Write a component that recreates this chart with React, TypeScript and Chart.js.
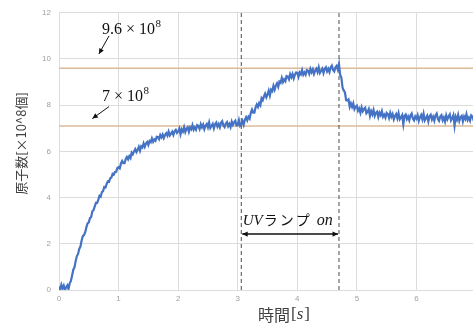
import React, { useEffect, useRef } from "react";
import { Chart, registerables } from "chart.js";

Chart.register(...registerables);

// ---- data ----
const SAMPLE_START = 0; // s
const SAMPLE_STEP = 0.02; // s
// atom number [x10^8], one value per sample (rows = 1 s each)
const ATOM_COUNT = [
  0.16, 0.02, 0.22, 0.07, 0.19, 0.0, 0.12, 0.2, 0.04, 0.29, 0.39, 0.63, 0.88, 0.98, 1.26, 1.47, 1.56, 1.78, 1.88, 2.14, 2.33, 2.38, 2.5, 2.72, 2.88,
  2.93, 3.11, 3.16, 3.41, 3.46, 3.62, 3.77, 3.77, 3.91, 4.08, 4.04, 4.24, 4.28, 4.46, 4.44, 4.59, 4.7, 4.68, 4.84, 4.87, 5.03, 5.0, 5.11, 5.12, 5.28,
  5.32, 5.27, 5.48, 5.59, 5.49, 5.49, 5.67, 5.76, 5.66, 5.79, 5.71, 5.95, 5.88, 6.0, 6.1, 5.97, 6.07, 6.2, 6.03, 6.22, 6.17, 6.35, 6.2, 6.34, 6.41,
  6.28, 6.45, 6.4, 6.56, 6.42, 6.52, 6.46, 6.63, 6.62, 6.53, 6.71, 6.61, 6.73, 6.58, 6.71, 6.79, 6.68, 6.86, 6.69, 6.77, 6.85, 6.71, 6.87, 6.93, 6.8,
  6.86, 6.99, 6.74, 6.95, 6.86, 7.05, 6.84, 6.98, 7.04, 6.85, 7.04, 6.96, 7.14, 6.94, 7.04, 6.94, 7.14, 7.1, 6.97, 7.18, 7.04, 7.16, 6.96, 7.11, 7.19,
  7.04, 7.25, 7.01, 7.1, 7.19, 7.0, 7.18, 7.25, 7.07, 7.18, 7.04, 7.24, 7.31, 7.12, 7.05, 7.21, 7.27, 7.09, 7.19, 7.05, 7.29, 7.15, 7.26, 7.33, 7.12,
  7.14, 7.35, 7.11, 7.19, 7.32, 7.15, 7.37, 7.48, 7.35, 7.5, 7.42, 7.67, 7.81, 7.68, 7.68, 7.91, 8.03, 7.92, 8.09, 8.0, 8.3, 8.22, 8.38, 8.5, 8.34,
  8.46, 8.63, 8.42, 8.67, 8.61, 8.84, 8.67, 8.85, 8.95, 8.8, 9.02, 8.97, 9.18, 9.0, 9.12, 9.04, 9.26, 9.24, 9.12, 9.34, 9.21, 9.35, 9.16, 9.32, 9.42,
  9.41, 9.23, 9.42, 9.34, 9.52, 9.32, 9.42, 9.32, 9.52, 9.49, 9.36, 9.57, 9.43, 9.55, 9.35, 9.5, 9.58, 9.43, 9.64, 9.4, 9.49, 9.58, 9.39, 9.57, 9.64,
  9.46, 9.57, 9.43, 9.63, 9.71, 9.52, 9.46, 9.63, 9.7, 9.54, 9.78, 9.31, 9.2, 8.76, 8.64, 8.55, 8.22, 8.2, 8.25, 7.93, 8.08, 7.93, 8.08, 7.83, 7.93,
  7.98, 7.76, 7.85, 7.67, 7.91, 7.74, 7.84, 7.89, 7.65, 7.71, 7.83, 7.54, 7.74, 7.6, 7.79, 7.54, 7.67, 7.72, 7.49, 7.68, 7.57, 7.74, 7.5, 7.59, 7.46,
  7.67, 7.62, 7.45, 7.67, 7.5, 7.62, 7.39, 7.53, 7.62, 7.43, 7.65, 7.39, 7.47, 7.57, 7.18, 7.54, 7.6, 7.4, 7.51, 7.35, 7.56, 7.64, 7.42, 7.34, 7.51,
  7.42, 7.57, 7.32, 7.48, 7.58, 7.39, 7.63, 7.34, 7.44, 7.54, 7.3, 7.52, 7.59, 7.38, 7.5, 7.33, 7.56, 7.64, 7.4, 7.32, 7.51, 7.57, 7.35, 7.47, 7.29,
  7.56, 7.39, 7.51, 7.6, 7.34, 7.43, 7.57, 7.12, 7.5, 7.37, 7.58, 7.32, 7.48, 7.54, 7.3, 7.51, 7.4, 7.61, 7.36, 7.46, 7.33, 7.56, 7.51, 7.34, 7.58,
  7.44,
];

const LEVELS = [9.6, 7.1]; // reference levels [x10^8]
const UV_ON = 3.06; // s
const UV_OFF = 4.7; // s

const X_RANGE = [0, 7];
const Y_RANGE = [0, 12];
const X_STEP = 1;
const Y_STEP = 2;

const X_TITLE = "時間";
const X_TITLE_UNIT = "s";
const Y_TITLE = "原子数[×10^8個]";

const PEAK_LABEL = ["9.6 × 10", "8"];
const BASE_LABEL = ["7 × 10", "8"];
const UV_LABEL = ["UV", "ランプ", "on"];

// annotation anchors in data coordinates
const PEAK_LABEL_AT = [0.72, 11.1];
const PEAK_ARROW = [0.84, 11.0, 0.67, 10.22];
const BASE_LABEL_AT = [0.72, 8.2];
const BASE_ARROW = [0.84, 7.94, 0.56, 7.42];
const UV_LABEL_Y = 2.83;
const UV_ARROW_Y = 2.42;

function arrowHead(ctx: CanvasRenderingContext2D, x1: number, y1: number, x2: number, y2: number, size: number) {
  const a = Math.atan2(y2 - y1, x2 - x1);
  ctx.beginPath();
  ctx.moveTo(x2, y2);
  ctx.lineTo(x2 - size * Math.cos(a - 0.45), y2 - size * Math.sin(a - 0.45));
  ctx.lineTo(x2 - size * Math.cos(a + 0.45), y2 - size * Math.sin(a + 0.45));
  ctx.closePath();
  ctx.fill();
}

function arrow(ctx: CanvasRenderingContext2D, x1: number, y1: number, x2: number, y2: number) {
  ctx.beginPath();
  ctx.moveTo(x1, y1);
  ctx.lineTo(x2, y2);
  ctx.stroke();
  arrowHead(ctx, x1, y1, x2, y2, 6);
}

function sci(ctx: CanvasRenderingContext2D, parts: string[], x: number, y: number) {
  ctx.font = '16px "Liberation Serif"';
  ctx.textAlign = "left";
  ctx.textBaseline = "alphabetic";
  ctx.fillText(parts[0], x, y);
  const w = ctx.measureText(parts[0]).width;
  ctx.font = '11px "Liberation Serif"';
  ctx.fillText(parts[1], x + w + 0.5, y - 7);
}

const annotations = {
  id: "annotations",
  afterDraw(chart: any) {
    const { ctx, scales } = chart;
    const xs = scales.x;
    const ys = scales.y;
    const px = (v: number) => xs.getPixelForValue(v);
    const py = (v: number) => ys.getPixelForValue(v);
    ctx.save();
    ctx.fillStyle = "#111";
    ctx.strokeStyle = "#111";
    ctx.lineWidth = 1;

    sci(ctx, PEAK_LABEL, px(PEAK_LABEL_AT[0]), py(PEAK_LABEL_AT[1]));
    arrow(ctx, px(PEAK_ARROW[0]), py(PEAK_ARROW[1]), px(PEAK_ARROW[2]), py(PEAK_ARROW[3]));
    sci(ctx, BASE_LABEL, px(BASE_LABEL_AT[0]), py(BASE_LABEL_AT[1]));
    arrow(ctx, px(BASE_ARROW[0]), py(BASE_ARROW[1]), px(BASE_ARROW[2]), py(BASE_ARROW[3]));

    // UV lamp label
    const x0 = px(UV_ON);
    const x1 = px(UV_OFF);
    const ly = py(UV_LABEL_Y);
    ctx.textBaseline = "alphabetic";
    ctx.textAlign = "left";
    ctx.font = 'italic 15px "Liberation Serif"';
    ctx.fillText(UV_LABEL[0], x0 + 1.5, ly);
    let cx = x0 + 1.5 + ctx.measureText(UV_LABEL[0]).width + 1;
    ctx.font = '14px "Noto Sans CJK JP"';
    for (const ch of UV_LABEL[1]) {
      ctx.fillText(ch, cx, ly);
      cx += ctx.measureText(ch).width + 2;
    }
    ctx.font = 'italic 16px "Liberation Serif"';
    ctx.fillText(UV_LABEL[2], cx + 5, ly);

    const ay = py(UV_ARROW_Y);
    ctx.lineWidth = 1.5;
    ctx.beginPath();
    ctx.moveTo(x0 + 1, ay);
    ctx.lineTo(x1 - 1, ay);
    ctx.stroke();
    arrowHead(ctx, x1, ay, x0 + 1, ay, 6);
    arrowHead(ctx, x0, ay, x1 - 1, ay, 6);

    // axis titles
    ctx.fillStyle = "#404040";
    ctx.font = '16px "Noto Sans CJK JP"';
    ctx.textBaseline = "middle";
    const tw = ctx.measureText(X_TITLE).width;
    ctx.font = '17px "Liberation Serif"';
    const bw = ctx.measureText("[").width;
    ctx.font = 'italic 17px "Liberation Serif"';
    const sw = ctx.measureText(X_TITLE_UNIT).width;
    const total = tw + bw * 2 + sw + 2;
    let tx = 284 - total / 2;
    const ty = 315;
    ctx.font = '16px "Noto Sans CJK JP"';
    ctx.fillText(X_TITLE, tx, ty);
    tx += tw + 1;
    ctx.font = '17px "Liberation Serif"';
    ctx.fillText("[", tx, ty);
    tx += bw;
    ctx.font = 'italic 17px "Liberation Serif"';
    ctx.fillText(X_TITLE_UNIT, tx, ty);
    tx += sw + 1;
    ctx.font = '17px "Liberation Serif"';
    ctx.fillText("]", tx, ty);

    ctx.translate(21.5, 143.5);
    ctx.rotate(-Math.PI / 2);
    ctx.textAlign = "center";
    ctx.font = '13px "Noto Sans CJK JP"';
    ctx.fillText(Y_TITLE, 0, 0);
    ctx.restore();
  },
};

export default function App() {
  const ref = useRef<HTMLCanvasElement | null>(null);

  useEffect(() => {
    if (!ref.current) return;
    const series = ATOM_COUNT.map((v, i) => ({ x: SAMPLE_START + i * SAMPLE_STEP, y: v }));
    const levelSets = LEVELS.map((lv) => ({
      data: [
        { x: X_RANGE[0], y: lv },
        { x: X_RANGE[1], y: lv },
      ],
      borderColor: "#DDBA96",
      borderWidth: 1.3,
      pointRadius: 0,
      order: 2,
    }));
    const uvSets = [UV_ON, UV_OFF].map((t) => ({
      data: [
        { x: t, y: Y_RANGE[0] },
        { x: t, y: Y_RANGE[1] },
      ],
      borderColor: "#4d4d4d",
      borderWidth: 1,
      borderDash: [4, 3],
      pointRadius: 0,
      order: 1,
    }));
    const chart = new Chart(ref.current, {
      type: "line",
      data: {
        datasets: [
          {
            data: series,
            borderColor: "#4472C4",
            borderWidth: 2.2,
            pointRadius: 0,
            tension: 0,
            order: 0,
          },
          ...levelSets,
          ...uvSets,
        ] as any,
      },
      options: {
        animation: false,
        responsive: false,
        maintainAspectRatio: false,
        layout: { padding: { left: 0, top: 12, right: 14, bottom: 0 } },
        plugins: { legend: { display: false }, tooltip: { enabled: false }, title: { display: false } },
        scales: {
          x: {
            type: "linear",
            min: X_RANGE[0],
            max: X_RANGE[1],
            ticks: { stepSize: X_STEP, color: "#a0a0a0", font: { size: 8, family: "Liberation Sans" }, padding: 4, maxRotation: 0 },
            grid: { color: "#dcdcdc", drawTicks: false },
            border: { color: "#dcdcdc" },
            afterFit: (s: any) => {
              s.height = 34;
            },
          },
          y: {
            min: Y_RANGE[0],
            max: Y_RANGE[1],
            ticks: { stepSize: Y_STEP, color: "#a0a0a0", font: { size: 8, family: "Liberation Sans" }, padding: 8 },
            grid: { color: "#dcdcdc", drawTicks: false },
            border: { color: "#dcdcdc" },
            afterFit: (s: any) => {
              s.width = 59;
            },
          },
        },
      },
      plugins: [annotations],
    });
    return () => chart.destroy();
  }, []);

  return (
    <div style={{ position: "fixed", left: 0, top: 0, width: 473, height: 324, overflow: "hidden", background: "#fff" }}>
      <canvas ref={ref} width={490} height={324} style={{ display: "block", width: 490, height: 324 }} />
    </div>
  );
}
